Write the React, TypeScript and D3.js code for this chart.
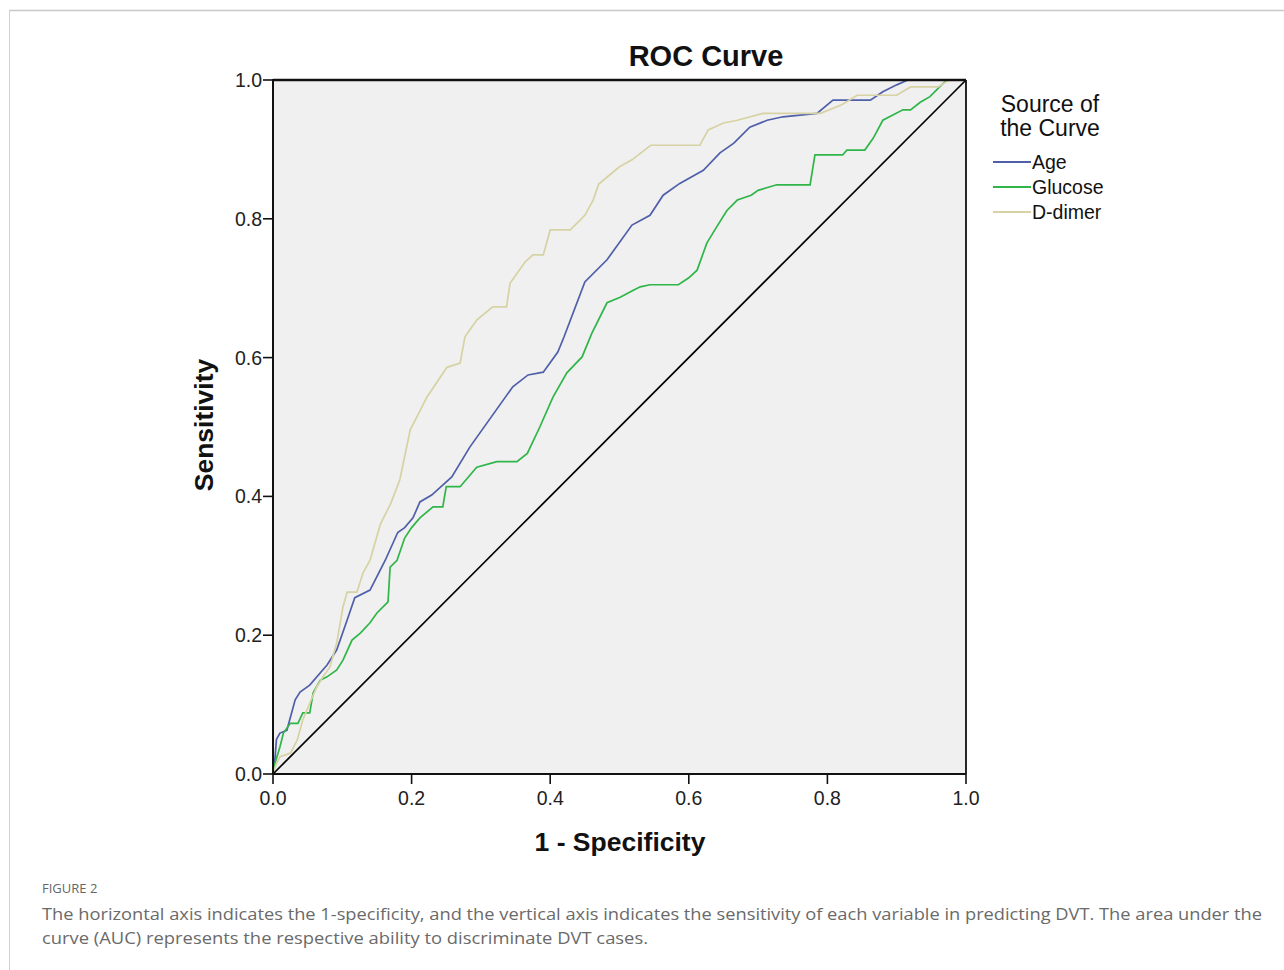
import React from "react";
import * as d3 from "d3";

const ticks = [0, 0.2, 0.4, 0.6, 0.8, 1.0];
const seriesNames = ["Age", "Glucose", "D-dimer"];
const seriesColors = ["#4f5fa9", "#2fb548", "#d6d2a4"];

const ageCurve: [number, number][] = [
  [0, 0], [0.003, 0.024], [0.005, 0.05], [0.01, 0.059], [0.02, 0.063], [0.032, 0.107], [0.039, 0.118],
  [0.053, 0.128], [0.078, 0.157], [0.092, 0.179], [0.107, 0.222], [0.118, 0.254], [0.14, 0.265],
  [0.162, 0.308], [0.18, 0.348], [0.19, 0.355], [0.202, 0.369], [0.212, 0.392], [0.229, 0.402],
  [0.258, 0.428], [0.284, 0.471], [0.346, 0.558], [0.368, 0.575], [0.39, 0.579], [0.411, 0.608],
  [0.42, 0.63], [0.45, 0.709], [0.482, 0.741], [0.518, 0.791], [0.544, 0.805], [0.563, 0.834],
  [0.587, 0.851], [0.621, 0.87], [0.645, 0.895], [0.665, 0.909], [0.688, 0.932], [0.713, 0.942],
  [0.736, 0.947], [0.785, 0.952], [0.808, 0.971], [0.862, 0.971], [0.88, 0.983], [0.9, 0.993],
  [0.916, 1.0], [1, 1],
];

const glucoseCurve: [number, number][] = [
  [0, 0], [0.003, 0.016], [0.01, 0.039], [0.015, 0.059], [0.025, 0.073], [0.036, 0.073], [0.043, 0.088],
  [0.053, 0.088], [0.058, 0.117], [0.068, 0.135], [0.078, 0.14], [0.092, 0.15], [0.101, 0.164],
  [0.114, 0.193], [0.126, 0.203], [0.14, 0.218], [0.15, 0.232], [0.166, 0.248], [0.169, 0.298],
  [0.179, 0.308], [0.19, 0.34], [0.2, 0.355], [0.212, 0.369], [0.231, 0.385], [0.245, 0.385],
  [0.25, 0.414], [0.27, 0.414], [0.294, 0.442], [0.323, 0.45], [0.352, 0.45], [0.367, 0.462],
  [0.385, 0.5], [0.404, 0.543], [0.424, 0.578], [0.446, 0.601], [0.46, 0.635], [0.482, 0.679],
  [0.501, 0.687], [0.52, 0.697], [0.53, 0.702], [0.544, 0.705], [0.585, 0.705], [0.6, 0.715],
  [0.612, 0.726], [0.626, 0.765], [0.64, 0.788], [0.655, 0.812], [0.67, 0.827], [0.69, 0.834],
  [0.7, 0.841], [0.727, 0.849], [0.775, 0.849], [0.782, 0.892], [0.822, 0.892], [0.828, 0.899],
  [0.854, 0.899], [0.866, 0.916], [0.88, 0.942], [0.909, 0.957], [0.92, 0.957], [0.934, 0.968],
  [0.948, 0.976], [0.958, 0.986], [0.972, 1.0], [1, 1],
];

const ddimerCurve: [number, number][] = [
  [0, 0], [0.005, 0.015], [0.01, 0.025], [0.025, 0.03], [0.035, 0.049], [0.043, 0.078], [0.053, 0.102],
  [0.063, 0.125], [0.072, 0.14], [0.082, 0.154], [0.092, 0.189], [0.101, 0.241], [0.107, 0.262],
  [0.121, 0.262], [0.13, 0.29], [0.14, 0.308], [0.155, 0.36], [0.17, 0.39], [0.183, 0.424],
  [0.198, 0.496], [0.215, 0.529], [0.222, 0.543], [0.251, 0.586], [0.27, 0.592], [0.277, 0.63],
  [0.294, 0.654], [0.317, 0.673], [0.337, 0.673], [0.342, 0.707], [0.364, 0.738], [0.375, 0.748],
  [0.39, 0.748], [0.4, 0.784], [0.429, 0.784], [0.45, 0.805], [0.462, 0.827], [0.47, 0.85],
  [0.5, 0.875], [0.518, 0.885], [0.545, 0.906], [0.616, 0.906], [0.628, 0.928], [0.65, 0.938],
  [0.67, 0.942], [0.707, 0.952], [0.79, 0.952], [0.82, 0.964], [0.843, 0.978], [0.9, 0.978],
  [0.92, 0.99], [0.96, 0.99], [0.975, 1.0], [1, 1],
];

const curves = [ageCurve, glucoseCurve, ddimerCurve];
const diagonal: [number, number][] = [[0, 0], [1, 1]];

const captionLabel = "FIGURE 2";
const captionLines = [
  "The horizontal axis indicates the 1-specificity, and the vertical axis indicates the sensitivity of each variable in predicting DVT. The area under the",
  "curve (AUC) represents the respective ability to discriminate DVT cases.",
];
const captionWidths = [1220, 606];

export default function App() {
  const W = 1284, H = 970;
  const x0 = 273, x1 = 966, y0 = 774, y1 = 80;
  const x = d3.scaleLinear().domain([0, 1]).range([x0, x1]);
  const y = d3.scaleLinear().domain([0, 1]).range([y0, y1]);
  const line = d3.line<[number, number]>().x(d => x(d[0])).y(d => y(d[1]));
  const font = "Arial, 'Liberation Sans', sans-serif";

  return (
    <svg width={W} height={H} style={{ position: "absolute", left: 0, top: 0, background: "#fff" }}>
      <line x1={9} y1={10.5} x2={W} y2={10.5} stroke="#c8c8c8" strokeWidth={1.5} />
      <line x1={9.5} y1={10} x2={9.5} y2={H} stroke="#d0d0d0" strokeWidth={1} />

      <rect x={x0} y={y1} width={x1 - x0} height={y0 - y1} fill="#f0f0f0" />
      {curves.map((c, i) => (
        <path key={i} d={line(c) || ""} fill="none" stroke={seriesColors[i]} strokeWidth={1.7} />
      ))}
      <path d={line(diagonal) || ""} fill="none" stroke="#000" strokeWidth={1.7} />

      {/* frame */}
      <line x1={x0} y1={y1} x2={x1} y2={y1} stroke="#111" strokeWidth={2.4} />
      <line x1={x1} y1={y1} x2={x1} y2={y0} stroke="#111" strokeWidth={1.8} />
      <line x1={x0} y1={y1 - 1} x2={x0} y2={y0} stroke="#111" strokeWidth={2} />
      <line x1={x0} y1={y0} x2={x1} y2={y0} stroke="#111" strokeWidth={2} />

      {ticks.map((t, i) => (
        <g key={"y" + i}>
          <line x1={x0 - 10} x2={x0} y1={y(t)} y2={y(t)} stroke="#111" strokeWidth={1.6} />
          <text x={x0 - 11} y={y(t) + 7} textAnchor="end" fontFamily={font} fontSize={19.5} fill="#222">
            {t.toFixed(1)}
          </text>
        </g>
      ))}
      {ticks.map((t, i) => (
        <g key={"x" + i}>
          <line x1={x(t)} x2={x(t)} y1={y0} y2={y0 + 10} stroke="#111" strokeWidth={1.6} />
          <text x={x(t)} y={y0 + 31} textAnchor="middle" fontFamily={font} fontSize={19.5} fill="#222">
            {t.toFixed(1)}
          </text>
        </g>
      ))}

      <text x={706} y={66} textAnchor="middle" fontFamily={font} fontWeight="bold" fontSize={29} fill="#111">
        ROC Curve
      </text>
      <text x={620} y={851} textAnchor="middle" fontFamily={font} fontWeight="bold" fontSize={26.5} fill="#111">
        1 - Specificity
      </text>
      <text transform="translate(213,425) rotate(-90)" textAnchor="middle" fontFamily={font} fontWeight="bold" fontSize={26.5} fill="#111">
        Sensitivity
      </text>

      <text x={1050} y={112} textAnchor="middle" fontFamily={font} fontSize={23} fill="#111">Source of</text>
      <text x={1050} y={136} textAnchor="middle" fontFamily={font} fontSize={23} fill="#111">the Curve</text>
      {seriesNames.map((n, i) => (
        <g key={n}>
          <line x1={993} x2={1031} y1={162 + i * 25} y2={162 + i * 25} stroke={seriesColors[i]} strokeWidth={1.9} />
          <text x={1032} y={169 + i * 25} fontFamily={font} fontSize={19.5} fill="#111">{n}</text>
        </g>
      ))}

      <text x={42} y={893} fontFamily="'Open Sans', sans-serif" fontSize={13} fill="#666">{captionLabel}</text>
      {captionLines.map((l, i) => (
        <text key={i} x={42} y={920 + i * 24} fontFamily="'Open Sans', sans-serif" fontSize={17}
          textLength={captionWidths[i]} lengthAdjust="spacingAndGlyphs" fill="#6a6a6a">
          {l}
        </text>
      ))}
    </svg>
  );
}
